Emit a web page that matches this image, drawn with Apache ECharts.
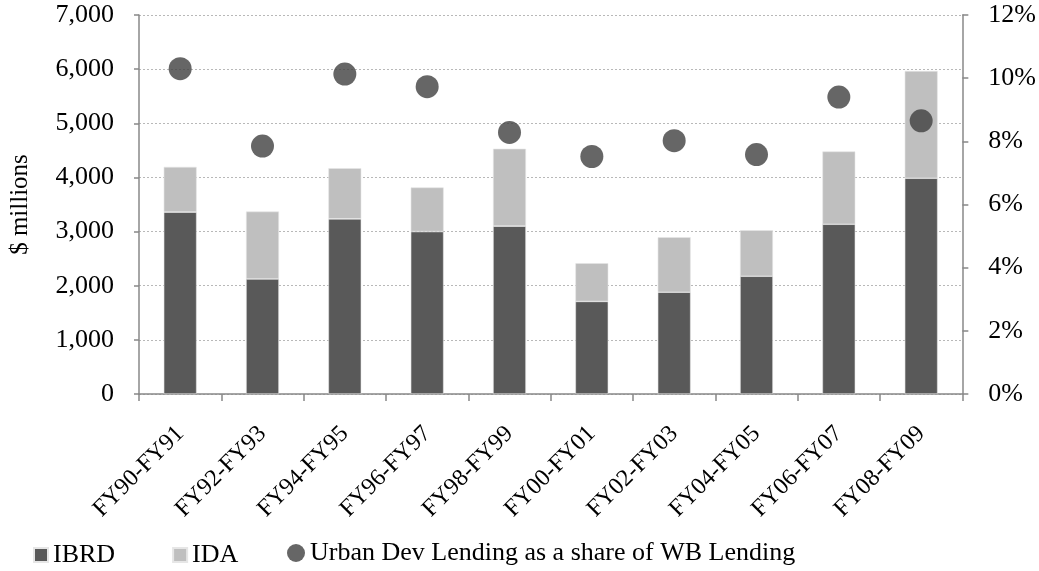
<!DOCTYPE html>
<html>
<head>
<meta charset="utf-8">
<script src="https://cdn.jsdelivr.net/npm/echarts@6/dist/echarts.min.js"></script>
<style>
  html, body { margin: 0; padding: 0; background: #fff; }
  #chart { width: 1039px; height: 571px; }
</style>
</head>
<body>
<div id="chart"></div>
<script>
var categories = ["FY90-FY91", "FY92-FY93", "FY94-FY95", "FY96-FY97", "FY98-FY99",
  "FY00-FY01", "FY02-FY03", "FY04-FY05", "FY06-FY07", "FY08-FY09"];
var ibrd = [3360, 2125, 3235, 3000, 3100, 1710, 1880, 2175, 3135, 3985];
var ida = [835, 1245, 935, 815, 1430, 705, 1015, 850, 1345, 1980];
var urbanShare = [10.3, 7.85, 10.13, 9.73, 8.28, 7.52, 8.02, 7.58, 9.4, 8.65];

var font = "Liberation Serif, Times New Roman, serif";
var axisGrey = "#888888";
var shareName = "Urban Dev Lending as a share of WB Lending";

var chart = echarts.init(document.getElementById("chart"));
chart.setOption({
  animation: false,
  textStyle: { fontFamily: font },
  grid: { left: 138, right: 75, top: 15, bottom: 177 },
  legend: [
    {
      left: 33,
      top: 542,
      padding: 0,
      itemWidth: 14,
      itemHeight: 14,
      itemGap: 57,
      textStyle: { fontFamily: font, fontSize: 26, color: "#000" },
      data: [
        { name: "IBRD", icon: "rect" },
        { name: "IDA", icon: "rect" }
      ]
    },
    {
      left: 287,
      top: 540,
      padding: 0,
      itemWidth: 18,
      itemHeight: 18,
      textStyle: { fontFamily: font, fontSize: 26, color: "#000" },
      data: [{ name: shareName, icon: "circle" }]
    }
  ],
  xAxis: {
    type: "category",
    data: categories,
    axisLine: { lineStyle: { color: axisGrey, width: 1.5 } },
    axisTick: { show: true, length: 7, lineStyle: { color: axisGrey, width: 1.5 } },
    axisLabel: { rotate: 45, interval: 0, margin: 36, fontFamily: font, fontSize: 24, color: "#000" }
  },
  yAxis: [
    {
      type: "value",
      min: 0,
      max: 7000,
      interval: 1000,
      name: "$ millions",
      nameLocation: "middle",
      nameGap: 106,
      nameTextStyle: { fontFamily: font, fontSize: 25, color: "#000" },
      axisLine: { show: true, lineStyle: { color: axisGrey, width: 1.5 } },
      axisTick: { show: true, length: 5, lineStyle: { color: axisGrey, width: 1.5 } },
      axisLabel: {
        fontFamily: font, fontSize: 26, color: "#000", margin: 25,
        formatter: function (v) { return v.toLocaleString("en-US"); }
      },
      splitLine: { lineStyle: { color: "#b8b8b8", type: [2, 2], width: 1 } }
    },
    {
      type: "value",
      min: 0,
      max: 12,
      interval: 2,
      position: "right",
      axisLine: { show: true, lineStyle: { color: axisGrey, width: 1.5 } },
      axisTick: { show: true, length: 6, lineStyle: { color: axisGrey, width: 1.5 } },
      axisLabel: { fontFamily: font, fontSize: 26, color: "#000", margin: 26, formatter: "{value}%" },
      splitLine: { show: false }
    }
  ],
  series: [
    {
      name: "IBRD",
      type: "bar",
      stack: "total",
      barWidth: "40%",
      itemStyle: { color: "#595959", borderColor: "#e6e6e6", borderWidth: 0.6 },
      data: ibrd
    },
    {
      name: "IDA",
      type: "bar",
      stack: "total",
      itemStyle: { color: "#bfbfbf", borderColor: "#e6e6e6", borderWidth: 0.6 },
      data: ida
    },
    {
      name: shareName,
      type: "scatter",
      yAxisIndex: 1,
      symbol: "circle",
      symbolSize: 23,
      itemStyle: { color: "#404040" },
      data: urbanShare
    }
  ]
});
</script>
</body>
</html>
